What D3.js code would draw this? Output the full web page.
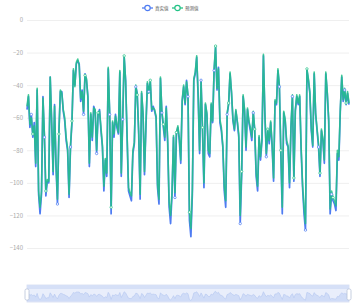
<!DOCTYPE html>
<html>
<head>
<meta charset="utf-8">
<script src="https://cdn.jsdelivr.net/npm/d3@7"></script>
<style>
  body { margin: 0; background: #fff; }
  text { font-family: "Noto Sans CJK SC", "DejaVu Sans", sans-serif; }
</style>
</head>
<body>
<svg id="chart" width="355" height="307"></svg>
<script>
const realValues = [
  -55, -47, -66, -58, -72, -63, -90, -43, -107, -119, -107, -47, -72, -108, -99, -100, -35, -63, -95, -52,
  -90, -113, -68, -44, -44, -56, -62, -74, -80, -109, -78, -63, -31, -40, -27, -25,
  -27, -50, -43, -58, -33, -37, -47, -90, -58, -74, -53, -56, -82, -58, -55, -68, -78, -105, -86, -96,
  -30, -58, -119, -63, -72, -58, -66, -70, -32, -96, -61, -23, -37, -72, -105, -108,
  -111, -82, -76, -41, -45, -70, -110, -45, -58, -95, -66, -39, -44, -38, -56, -53, -56, -60, -103, -113,
  -36, -57, -66, -74, -53, -76, -115, -125, -107, -72, -109, -70, -66, -74, -88, -50, -41,
  -52, -37, -47, -123, -133, -107, -37, -33, -23, -47, -82, -37, -68, -103, -52, -58, -82, -84, -52, -63,
  -31, -17, -43, -29, -63, -68, -78, -105, -115, -58, -52, -33, -45, -62, -68,
  -56, -63, -72, -125, -95, -47, -56, -80, -55, -63, -68, -74, -57, -68, -96, -105, -72, -86, -74, -22,
  -58, -84, -68, -76, -63, -78, -99, -50, -52, -31, -41, -82, -119, -57, -62, -76, -78, -103, -66, -47,
  -99, -56, -47, -52, -47, -80, -103, -119, -129, -31, -37, -45, -68, -78, -33, -58, -68, -78, -96, -68,
  -74, -88, -33, -45, -62, -119, -107, -111, -113, -117, -82, -86, -56, -35, -50, -43, -52, -45, -52
];
const predValues = [
  -53, -46, -64, -60, -70, -65, -88, -42, -105, -115, -105, -48, -70, -105, -98, -99, -35, -62, -93, -53,
  -88, -110, -70, -43, -45, -55, -60, -72, -79, -107, -77, -62, -30, -41, -26, -24,
  -28, -48, -44, -56, -34, -36, -48, -88, -57, -72, -54, -55, -80, -57, -56, -66, -77, -102, -85, -94,
  -29, -57, -115, -62, -70, -59, -64, -69, -31, -94, -60, -22, -38, -70, -103, -106,
  -108, -80, -75, -40, -46, -68, -107, -44, -57, -93, -64, -38, -45, -37, -55, -54, -55, -59, -101, -110,
  -35, -56, -64, -72, -54, -74, -112, -120, -105, -71, -106, -69, -65, -72, -86, -49, -40,
  -51, -38, -46, -118, -128, -104, -36, -32, -22, -46, -80, -38, -66, -100, -51, -57, -80, -82, -51, -62,
  -30, -16, -42, -30, -61, -66, -77, -102, -111, -57, -51, -32, -44, -61, -67,
  -55, -62, -70, -120, -93, -46, -55, -78, -54, -62, -66, -72, -56, -67, -94, -102, -71, -84, -73, -21,
  -57, -82, -67, -74, -62, -76, -97, -49, -51, -30, -40, -80, -115, -56, -61, -74, -77, -100, -65, -46,
  -97, -55, -46, -51, -46, -78, -101, -115, -125, -30, -36, -44, -66, -77, -32, -57, -67, -76, -94, -67,
  -73, -86, -32, -44, -61, -116, -105, -109, -111, -114, -80, -84, -55, -34, -49, -42, -51, -44, -51
];
const yTicks = [0, -20, -40, -60, -80, -100, -120, -140];
const seriesNames = ["真实值", "预测值"];
const seriesColors = ["#4e7cf2", "#22c286"];

const svg = d3.select("#chart");
const plotLeft = 27, plotRight = 349, plotTop = 20, plotBottom = 248;

const x = d3.scaleLinear().domain([0, realValues.length - 1]).range([plotLeft, plotRight]);
const y = d3.scaleLinear().domain([-140, 0]).range([plotBottom, plotTop]);

// grid + y labels
const yAxis = d3.axisLeft(y).tickValues(yTicks).tickSize(-(plotRight - plotLeft)).tickPadding(4);
const gy = svg.append("g").attr("transform", `translate(${plotLeft},0)`).call(yAxis);
gy.select(".domain").remove();
gy.selectAll("line").attr("stroke", "#efefef");
gy.selectAll("text").attr("fill", "#a8a8a8").attr("font-size", 6);

const line = d3.line().x((d, i) => x(i)).y(d => y(d));

// blue under, green on top
svg.append("path").datum(realValues)
  .attr("fill", "none").attr("stroke", seriesColors[0]).attr("stroke-width", 1.7)
  .attr("stroke-linejoin", "round").attr("d", line);
svg.append("path").datum(predValues)
  .attr("fill", "none").attr("stroke", seriesColors[1]).attr("stroke-width", 1.6)
  .attr("stroke-opacity", 0.85).attr("stroke-linejoin", "round").attr("d", line);

// sampled symbols
[realValues, predValues].forEach((vals, k) => {
  svg.append("g").selectAll("circle")
    .data(vals.map((v, i) => [i, v]).filter(d => d[0] % 9 === 3 + k))
    .enter().append("circle")
    .attr("cx", d => x(d[0])).attr("cy", d => y(d[1])).attr("r", 1.2)
    .attr("fill", "#fff").attr("stroke", seriesColors[k]).attr("stroke-width", 0.7);
});

// legend
const legend = svg.append("g").attr("transform", "translate(142,8)");
seriesNames.forEach((name, i) => {
  const g = legend.append("g").attr("transform", `translate(${i * 30},0)`);
  g.append("line").attr("x1", 0).attr("x2", 11).attr("y1", 0).attr("y2", 0)
    .attr("stroke", seriesColors[i]).attr("stroke-width", 1.3);
  g.append("circle").attr("cx", 5.5).attr("cy", 0).attr("r", 2.7)
    .attr("fill", "#fff").attr("stroke", seriesColors[i]).attr("stroke-width", 1.2);
  g.append("text").attr("x", 13).attr("y", 1.8).attr("font-size", 4.5)
    .attr("fill", "#555").text(name);
});

// data zoom slider
const zTop = 285, zBottom = 302;
const zs = svg.append("g");
zs.append("rect").attr("x", plotLeft).attr("y", zTop).attr("width", plotRight - plotLeft).attr("height", zBottom - zTop)
  .attr("fill", "#e9eefb").attr("stroke", "#d5ddf0").attr("stroke-width", 0.8);
const ys = d3.scaleLinear().domain([-140, 0]).range([zBottom - 1, zTop + 5]);
const area = d3.area().x((d, i) => x(i)).y0(zBottom - 0.5).y1(d => ys(d));
zs.append("path").datum(realValues).attr("fill", "#c9d7f6").attr("fill-opacity", 0.8)
  .attr("d", area);
zs.append("path").datum(realValues).attr("fill", "none").attr("stroke", "#b3c6f0")
  .attr("stroke-width", 0.6).attr("d", d3.line().x((d, i) => x(i)).y(d => ys(d)));
zs.append("rect").attr("x", plotLeft).attr("y", zTop).attr("width", plotRight - plotLeft).attr("height", 4)
  .attr("fill", "#d6e0f7");
[plotLeft, plotRight].forEach(hx => {
  zs.append("rect").attr("x", hx - 2).attr("y", zTop + 4).attr("width", 4).attr("height", 11).attr("rx", 1.5)
    .attr("fill", "#fff").attr("stroke", "#b8c3d8").attr("stroke-width", 0.8);
});
</script>
</body>
</html>
